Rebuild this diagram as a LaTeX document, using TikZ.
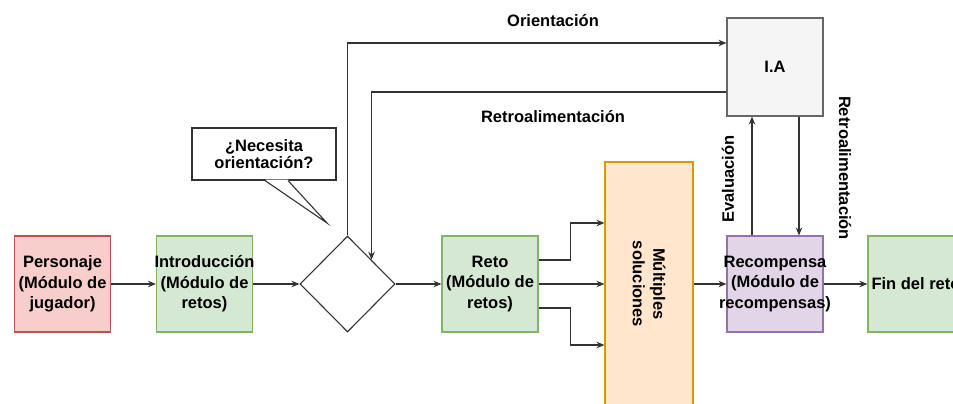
\documentclass[tikz,border=0pt]{standalone}
\usepackage{fontspec}
\setmainfont{Liberation Sans}
\usetikzlibrary{shapes.geometric,arrows.meta}
\definecolor{pinkf}{HTML}{F8CECC}
\definecolor{pinkd}{HTML}{B85450}
\definecolor{greenf}{HTML}{D5E8D4}
\definecolor{greend}{HTML}{82B366}
\definecolor{orangef}{HTML}{FFE6CC}
\definecolor{oranged}{HTML}{D79B00}
\definecolor{grayf}{HTML}{F5F5F5}
\definecolor{grayd}{HTML}{666666}
\definecolor{purplef}{HTML}{E1D5E7}
\definecolor{purpled}{HTML}{9673A6}
\begin{document}
\begin{tikzpicture}[x=1pt,y=-1pt,line width=1.1pt,
  font=\fontsize{16.5}{20.5}\selectfont\bfseries,
  box/.style={draw,minimum width=96pt,minimum height=96pt,inner sep=0pt},
  txt/.style={align=center,inner sep=0pt},
  arr/.style={draw=black!80,-{Stealth[length=8pt,width=6.5pt]}}]
\useasboundingbox (0,0) rectangle (953,404);
\clip (0,0) rectangle (953,404);
\node[box,fill=pinkf,draw=pinkd,label={[txt]center:{Personaje\\(Módulo de\\jugador)}}] (pers) at (62.5,284) {};
\node[box,fill=greenf,draw=greend,label={[txt]center:{Introducción\\(Módulo de\\retos)}}] (intro) at (204.5,284) {};
\node[diamond,draw=black!80,fill=white,minimum width=95pt,minimum height=96pt,inner sep=0pt] (dec) at (347.5,284) {};
\node[box,fill=greenf,draw=greend,label={[txt]center:{Reto\\(Módulo de\\retos)}}] (reto) at (490,284) {};
\node[box,fill=orangef,draw=oranged,minimum width=88pt,minimum height=244pt,label={[txt,rotate=-90]center:{Múltiples\\soluciones}}] (multi) at (649,284) {};
\node[box,fill=grayf,draw=grayd,minimum height=98pt,label={[txt]center:{I.A}}] (ia) at (775,67) {};
\node[box,fill=purplef,draw=purpled,label={[txt]center:{Recompensa\\(Módulo de\\recompensas)}}] (reco) at (775,284) {};
\node[box,fill=greenf,draw=greend,label={[txt]center:{Fin del reto}}] (fin) at (916,284) {};
% callout
\node[draw=black!80,fill=white,minimum width=144pt,minimum height=52pt,txt,
  font=\fontsize{16.5}{17}\selectfont\bfseries] (ask) at (264,154) {¿Necesita\\orientación?};
\coordinate (tip) at (327,223);
\fill[white] ([xshift=1pt,yshift=1pt]ask.south) -- (tip) -- ([xshift=24pt,yshift=1pt]ask.south) -- cycle;
\draw[black!80] ([xshift=1pt]ask.south) -- (tip) -- ([xshift=24pt]ask.south);
\draw[arr] (pers.east) -- (intro.west);
\draw[arr] (intro.east) -- (dec.west);
\draw[arr] (dec.east) -- (reto.west);
\draw[arr] ([yshift=24pt]reto.east) -- ++(32,0) |- ([yshift=61pt]multi.west);
\draw[arr] (reto.east) -- (multi.west);
\draw[arr] ([yshift=-24pt]reto.east) -- ++(32,0) |- ([yshift=-61pt]multi.west);
\draw[arr] (multi.east) -- (reco.west);
\draw[arr] (reco.east) -- (fin.west);
\draw[arr] ([xshift=-23pt]reco.north) -- ([xshift=-23pt]ia.south);
\draw[arr] ([xshift=24pt]ia.south) -- ([xshift=24pt]reco.north);
\draw[arr] (dec.north) |- ([yshift=24pt]ia.west);
\draw[arr] ([yshift=-25pt]ia.west) -| (dec.north east);
\node[txt] (orient) at (553,21) {Orientación};
\node[txt] (retroh) at (553,117) {Retroalimentación};
\node[txt,rotate=90] (evalu) at (728,179) {Evaluación};
\node[txt,rotate=-90] (retrov) at (845,168) {Retroalimentación};
\end{tikzpicture}
\end{document}
